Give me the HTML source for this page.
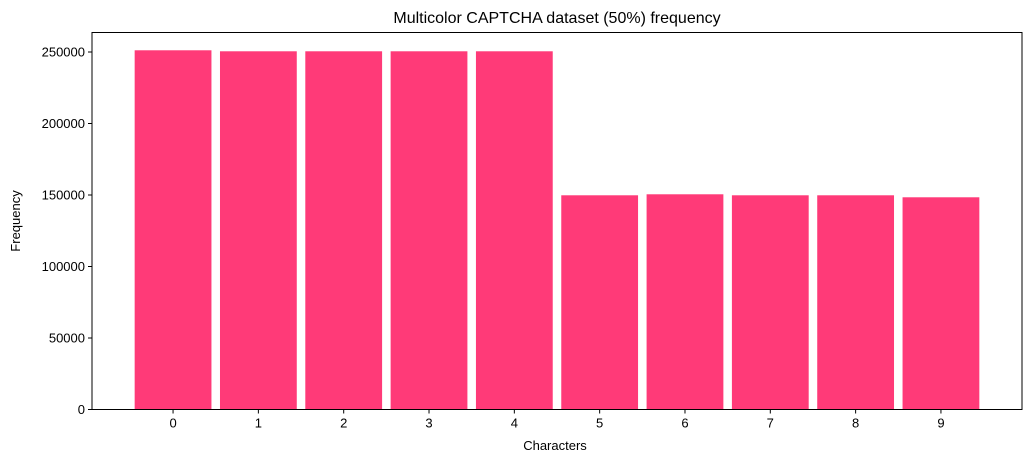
<!DOCTYPE html>
<html><head><meta charset="utf-8"><style>body{margin:0;background:#fff}svg{display:block}text{font-family:"Liberation Sans","DejaVu Sans",sans-serif;fill:#000}</style></head>
<body>
<svg id="chart" width="1031" height="463" xmlns="http://www.w3.org/2000/svg">
<text x="557" y="23" font-size="16" text-anchor="middle">Multicolor CAPTCHA dataset (50%) frequency</text>
<g id="bars"></g>
<g id="axes"></g>
<text x="555" y="450" font-size="13" text-anchor="middle">Characters</text>
<text transform="translate(20,221) rotate(-90)" font-size="13" text-anchor="middle">Frequency</text>
</svg>
<script>
const categories=["0","1","2","3","4","5","6","7","8","9"];
const values=[251200,250500,250500,250500,250500,149800,150500,149800,149800,148400];
const yTicks=[0,50000,100000,150000,200000,250000];
const L=92,R=1022,T=32.5,B=409.5;
const xs=i=>L+(i+0.95)*(R-L)/10.9;
const ys=v=>B-v/250000*357.5;
const ns="http://www.w3.org/2000/svg";
const bars=document.getElementById('bars'),axes=document.getElementById('axes');
function mk(tag,attrs,parent){const e=document.createElementNS(ns,tag);for(const k in attrs)e.setAttribute(k,attrs[k]);parent.appendChild(e);return e;}
const bw=0.9*(R-L)/10.9;
values.forEach((v,i)=>{
 const r=mk('rect',{x:xs(i)-bw/2,y:ys(v),width:bw,height:B-ys(v),fill:'#ff3a78'},bars);
 
 
 const t=mk('line',{x1:xs(i),x2:xs(i),y1:B,y2:B+4,stroke:'#000'},axes);
 
 
 const lb=mk('text',{x:xs(i),y:B+18,'font-size':13,'text-anchor':'middle'},axes);
 lb.textContent=categories[i];
 
 
});
yTicks.forEach(v=>{
 const t=mk('line',{x1:L-4,x2:L,y1:ys(v),y2:ys(v),stroke:'#000'},axes);
 
 
 const lb=mk('text',{x:L-7,y:ys(v)+4.5,'font-size':13,'text-anchor':'end'},axes);
 lb.textContent=v;
 
 
});
const f=mk('rect',{x:L,y:T,width:R-L,height:B-T,fill:'none',stroke:'#000','stroke-width':1},axes);


</script>
</body></html>
